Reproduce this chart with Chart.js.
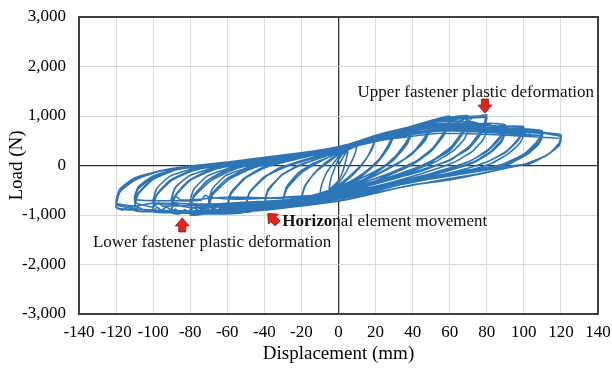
<!DOCTYPE html>
<html>
<head>
<meta charset="utf-8">
<script src="https://cdn.jsdelivr.net/npm/chart.js@4.4.1/dist/chart.umd.min.js"></script>
<style>
  html, body { margin: 0; padding: 0; background: #fff; }
</style>
</head>
<body>
<canvas id="myChart" width="612" height="368"></canvas>
<script>
// Displacement (mm), one row per loading cycle
const cycleDisp = [
  [0, 3, 5, 4, 2, 0, -3, -5, -4, -2, 0],
  [4, 10, 9, 6, 3, 0, -5, -10, -9, -6, -2, 0],
  [8, 14, 20, 18, 14, 8, 0, -10, -20, -18, -13, -7, 0],
  [10, 20, 18, 13, 5, -5, -20, -18, -12, -5, 0],
  [15, 30, 27, 22, 15, 5, -10, -30, -28, -22, -14, -5, 0],
  [15, 22, 30, 27, 21, 12, 0, -15, -30, -28, -21, -12, 0],
  [15, 30, 27, 21, 12, 0, -15, -30, -28, -20, -10, 0],
  [20, 30, 40, 37, 31, 24, 12, 0, -20, -40, -38, -31, -22, -10, 0],
  [20, 40, 37, 30, 22, 5, -15, -30, -40, -38, -30, -20, 0],
  [20, 40, 37, 30, 20, 8, -5, -20, -32, -34, -40, -38, -30, -18, 0],
  [15, 30, 50, 47, 41, 33, 20, 5, -20, -35, -50, -48, -41, -32, -18, 0],
  [20, 35, 50, 47, 40, 31, 15, -10, -30, -50, -48, -40, -30, -15, 0],
  [20, 38, 50, 47, 39, 29, 15, 0, -20, -38, -40, -42, -50, -48, -39, -28, -12, 0],
  [20, 40, 60, 57, 51, 42, 28, 10, -15, -40, -52, -55, -57, -60, -58, -51, -41, -25, 0],
  [20, 40, 55, 60, 57, 50, 40, 25, 0, -30, -45, -47, -50, -60, -58, -50, -40, -25, 0],
  [22, 45, 60, 57, 50, 40, 25, 5, -20, -42, -44, -46, -60, -58, -50, -38, -20, 0],
  [20, 45, 60, 70, 67, 61, 51, 36, 15, -10, -35, -50, -53, -56, -70, -68, -61, -50, -32, -10, 0],
  [20, 45, 65, 70, 67, 60, 50, 30, 0, -30, -62, -64, -70, -68, -60, -48, -30, 0],
  [25, 50, 62, 64, 70, 67, 60, 48, 30, 5, -25, -48, -50, -52, -70, -68, -59, -46, -25, 0],
  [25, 45, 60, 70, 68, 62, 52, 36, 12, -20, -45, -60, -70, -68, -61, -48, -28, 0],
  [20, 50, 65, 76, 80, 77, 71, 61, 45, 20, -10, -40, -60, -63, -66, -80, -78, -71, -60, -42, -15, 0],
  [20, 50, 70, 80, 77, 70, 60, 40, 10, -25, -55, -70, -72, -75, -80, -78, -70, -58, -40, 0],
  [25, 50, 68, 70, 72, 80, 77, 70, 58, 38, 10, -20, -50, -66, -68, -70, -80, -78, -69, -55, -35, 0],
  [25, 50, 65, 80, 78, 72, 62, 45, 20, -10, -40, -60, -80, -78, -71, -58, -38, 0],
  [25, 50, 65, 75, 77, 79, 90, 87, 81, 71, 52, 25, -10, -45, -70, -73, -76, -90, -88, -81, -70, -52, -25, 0],
  [25, 50, 70, 82, 84, 86, 90, 87, 80, 69, 50, 25, -10, -40, -70, -80, -83, -86, -90, -88, -80, -67, -45, -15, 0],
  [25, 50, 70, 80, 90, 88, 82, 73, 58, 35, 5, -30, -60, -75, -78, -90, -88, -81, -68, -48, -20, 0],
  [25, 50, 75, 90, 88, 82, 72, 55, 30, 0, -30, -55, -70, -72, -74, -90, -88, -80, -66, -45, -20, 0],
  [25, 50, 70, 85, 87, 89, 100, 97, 91, 80, 62, 35, 0, -40, -75, -78, -82, -100, -98, -91, -80, -62, -35, 0],
  [25, 50, 72, 80, 82, 84, 100, 97, 90, 78, 58, 30, 0, -35, -70, -85, -88, -90, -100, -98, -90, -78, -58, -30, 0],
  [25, 55, 80, 90, 100, 98, 92, 83, 70, 48, 20, -10, -45, -80, -90, -100, -98, -91, -78, -58, -30, 0],
  [25, 50, 75, 90, 92, 94, 110, 107, 101, 90, 70, 45, 20, 0, -40, -80, -90, -93, -96, -110, -108, -101, -90, -72, -45, -15, 0],
  [25, 50, 80, 96, 98, 100, 110, 107, 100, 88, 68, 40, 10, -30, -70, -95, -98, -100, -110, -108, -100, -88, -68, -40, -10, 0],
  [25, 55, 85, 100, 110, 108, 102, 92, 80, 55, 25, -5, -40, -75, -95, -97, -100, -110, -108, -100, -88, -65, -35, 0],
  [25, 55, 85, 110, 108, 101, 90, 70, 40, 5, -30, -60, -85, -88, -91, -110, -108, -100, -85, -60, -30, 0],
  [25, 50, 75, 95, 97, 99, 112, 120, 119, 114, 104, 97, 80, 60, 40, 20, 0, -40, -80, -105, -108, -111, -120, -118, -111, -100, -90, -75, -60, -25, 0],
  [25, 50, 80, 100, 102, 104, 120, 119, 113, 102, 95, 75, 50, 20, 0, -40, -80, -110, -113, -116, -120, -118, -110, -98, -80, -55, -25, 0],
  [25, 55, 85, 105, 120, 119, 112, 100, 92, 70, 40, 10, -30, -70, -100, -110, -120, -118, -110, -95, -75, -45, -15, 0],
  [30, 60, 85, 110, 120, 119, 113, 103, 95, 80, 60, 30, 0, -40, -80, -110, -120]
];

// Load (N) for the same points
const cycleLoad = [
  [0, 200, 300, 100, -150, -300, -420, -480, -250, -50, 120],
  [300, 450, 250, 0, -200, -350, -520, -620, -380, -120, 80, 180],
  [380, 500, 600, 350, 80, -180, -430, -600, -720, -420, -150, 60, 230],
  [420, 580, 320, 40, -250, -520, -700, -400, -120, 80, 220],
  [480, 700, 420, 130, -120, -350, -580, -800, -460, -170, 40, 170, 260],
  [470, 560, 680, 380, 80, -200, -450, -650, -780, -430, -130, 60, 250],
  [460, 650, 360, 60, -230, -500, -700, -820, -480, -150, 80, 260],
  [540, 660, 800, 500, 200, -30, -260, -450, -680, -860, -520, -210, 0, 150, 290],
  [530, 780, 460, 150, -80, -380, -620, -760, -840, -480, -180, 20, 280],
  [520, 760, 430, 120, -150, -380, -560, -720, -820, -760, -880, -500, -170, 40, 280],
  [500, 680, 900, 600, 300, 60, -200, -420, -680, -800, -920, -560, -260, -50, 120, 320],
  [560, 740, 880, 560, 250, 20, -270, -560, -760, -900, -540, -230, -30, 140, 320],
  [540, 760, 860, 520, 210, -10, -280, -520, -720, -850, -790, -880, -940, -560, -220, -20, 160, 310],
  [580, 800, 1000, 680, 360, 90, -150, -380, -620, -820, -880, -820, -900, -920, -560, -260, -40, 110, 340],
  [600, 790, 920, 960, 640, 300, 40, -200, -480, -730, -840, -780, -880, -900, -540, -240, -30, 120, 350],
  [590, 850, 940, 620, 290, 20, -230, -520, -760, -900, -830, -920, -950, -580, -250, -20, 150, 340],
  [600, 840, 970, 1000, 700, 390, 110, -140, -380, -620, -800, -870, -800, -890, -930, -580, -290, -70, 100, 250, 360],
  [590, 820, 960, 980, 660, 340, 70, -200, -500, -760, -880, -820, -910, -560, -260, -50, 110, 350],
  [640, 880, 960, 880, 960, 640, 300, 40, -230, -540, -800, -920, -850, -960, -960, -600, -280, -50, 140, 350],
  [600, 760, 780, 760, 540, 300, 70, -160, -430, -680, -800, -840, -760, -470, -210, -30, 130, 350],
  [610, 880, 980, 1000, 1020, 720, 410, 130, -110, -360, -620, -830, -900, -840, -920, -980, -620, -310, -80, 90, 250, 370],
  [600, 860, 960, 980, 680, 360, 100, -140, -420, -720, -880, -920, -860, -940, -950, -600, -290, -70, 90, 360],
  [640, 870, 970, 870, 960, 960, 650, 330, 80, -180, -470, -740, -900, -940, -870, -960, -1000, -640, -310, -60, 100, 360],
  [600, 780, 760, 720, 520, 280, 60, -160, -420, -660, -790, -840, -780, -480, -220, -40, 110, 350],
  [640, 880, 900, 860, 760, 850, 820, 580, 330, 90, -140, -380, -650, -850, -920, -860, -940, -930, -600, -310, -100, 50, 220, 380],
  [620, 840, 860, 820, 700, 800, 790, 540, 280, 60, -160, -420, -720, -900, -980, -960, -890, -980, -950, -620, -300, -80, 80, 260, 370],
  [580, 760, 740, 700, 690, 480, 260, 60, -120, -330, -560, -740, -820, -870, -790, -740, -450, -220, -50, 80, 230, 360],
  [600, 800, 780, 740, 520, 280, 60, -130, -360, -560, -640, -680, -640, -600, -700, -700, -440, -200, -40, 80, 230, 350],
  [620, 850, 830, 800, 700, 790, 780, 540, 300, 70, -140, -360, -620, -820, -920, -860, -940, -910, -580, -300, -110, 30, 180, 370],
  [600, 820, 800, 780, 660, 770, 760, 510, 260, 40, -170, -400, -660, -880, -950, -960, -880, -950, -930, -600, -300, -100, 40, 200, 360],
  [560, 740, 700, 660, 650, 460, 250, 50, -100, -280, -480, -680, -780, -850, -780, -760, -460, -220, -60, 60, 200, 350],
  [600, 810, 790, 760, 660, 750, 700, 480, 260, 20, -90, -260, -450, -640, -860, -940, -900, -840, -920, -900, -560, -290, -100, 10, 140, 280, 360],
  [590, 790, 770, 720, 600, 700, 680, 460, 230, 20, -140, -330, -600, -820, -920, -920, -840, -930, -910, -580, -280, -90, 20, 160, 300, 360],
  [540, 700, 660, 620, 600, 430, 230, 30, -60, -210, -420, -620, -750, -800, -820, -750, -840, -740, -470, -240, -80, 40, 180, 340],
  [560, 720, 690, 640, 450, 240, 30, -100, -300, -560, -660, -640, -700, -620, -710, -680, -430, -210, -60, 60, 210, 340],
  [590, 780, 760, 720, 620, 710, 660, 620, 450, 250, 60, 0, -140, -290, -390, -560, -720, -900, -960, -900, -840, -900, -840, -520, -290, -140, -60, 10, 70, 220, 330],
  [580, 770, 750, 700, 580, 690, 600, 430, 220, 40, -20, -170, -330, -540, -680, -880, -940, -880, -820, -900, -850, -540, -300, -130, -20, 60, 200, 320],
  [520, 650, 620, 580, 540, 400, 200, 20, -20, -150, -330, -540, -700, -780, -760, -820, -760, -480, -250, -100, -10, 90, 230, 320],
  [600, 760, 720, 650, 580, 420, 220, 30, 0, -80, -200, -380, -620, -840, -920, -880, -800]
];

const notes = [
  'Upper fastener plastic deformation',
  'Lower fastener plastic deformation',
  'Horizo', 'nal element movement'
];

const points = [];
cycleDisp.forEach((row, i) => {
  row.forEach((d, j) => points.push({x: d, y: cycleLoad[i][j]}));
});

const serif = '"Liberation Serif", "Times New Roman", serif';

// red block arrows + the three text notes
const notesPlugin = {
  id: 'notes',
  afterDraw(chart) {
    const ctx = chart.ctx;
    const x = chart.scales.x, y = chart.scales.y;
    const a = chart.chartArea;

    // frame round the plot
    ctx.save();
    ctx.strokeStyle = '#404040';
    ctx.lineWidth = 2;
    ctx.strokeRect(a.left, a.top, a.right - a.left, a.bottom - a.top);
    ctx.restore();

    ctx.save();
    ctx.fillStyle = '#111';
    ctx.textBaseline = 'middle';
    ctx.font = '17px ' + serif;
    ctx.fillText(notes[0], x.getPixelForValue(10.3), y.getPixelForValue(1470));
    ctx.fillText(notes[1], x.getPixelForValue(-132.5), y.getPixelForValue(-1550));
    const hx = x.getPixelForValue(-30.3), hy = y.getPixelForValue(-1140);
    ctx.font = 'bold 17px ' + serif;
    ctx.fillText(notes[2], hx, hy);
    const w = ctx.measureText(notes[2]).width;
    ctx.font = '17px ' + serif;
    ctx.fillText(notes[3], hx + w, hy);
    ctx.restore();

    function arrow(cx, cy, angle) {
      // arrow pointing along +y in local coords, tip at (0, 7)
      ctx.save();
      ctx.translate(cx, cy);
      ctx.rotate(angle);
      ctx.beginPath();
      ctx.moveTo(-3.5, -7);
      ctx.lineTo(3.5, -7);
      ctx.lineTo(3.5, -1);
      ctx.lineTo(7, -1);
      ctx.lineTo(0, 7);
      ctx.lineTo(-7, -1);
      ctx.lineTo(-3.5, -1);
      ctx.closePath();
      ctx.fillStyle = '#e8201c';
      ctx.fill();
      ctx.strokeStyle = '#8a1010';
      ctx.lineWidth = 0.8;
      ctx.stroke();
      ctx.restore();
    }
    arrow(x.getPixelForValue(79), y.getPixelForValue(1200), 0);
    arrow(x.getPixelForValue(-84.3), y.getPixelForValue(-1200), Math.PI);
    arrow(x.getPixelForValue(-35.5), y.getPixelForValue(-1070), Math.PI * 0.75);
  }
};

const config = {
  type: 'scatter',
  data: {
    datasets: [{
      data: points,
      showLine: true,
      borderColor: '#2E75B6',
      backgroundColor: '#2E75B6',
      borderWidth: 1.6,
      pointRadius: 0,
      tension: 0.15
    }]
  },
  options: {
    responsive: false,
    animation: false,
    layout: { padding: { left: 0, right: 14, top: 17, bottom: 0 } },
    plugins: {
      legend: { display: false },
      tooltip: { enabled: false }
    },
    scales: {
      x: {
        type: 'linear',
        min: -140,
        max: 140,
        ticks: {
          stepSize: 20, padding: 8, color: '#000',
          maxRotation: 0, minRotation: 0, autoSkip: false,
          font: { family: serif, size: 17 }
        },
        grid: {
          drawTicks: false,
          color: c => c.tick.value === 0 ? '#333333' : '#d9d9d9',
          lineWidth: c => c.tick.value === 0 ? 1.3 : 1
        },
        border: { display: false },
        title: {
          display: true,
          text: 'Displacement (mm)',
          color: '#000',
          font: { family: serif, size: 19 },
          padding: { top: 0, bottom: 3 }
        },
        afterFit: s => { s.height = 54; s.paddingLeft = 0; s.paddingRight = 0; }
      },
      y: {
        type: 'linear',
        min: -3000,
        max: 3000,
        ticks: { stepSize: 1000, padding: 13, color: '#000', font: { family: serif, size: 17 } },
        grid: {
          drawTicks: false,
          color: c => c.tick.value === 0 ? '#333333' : '#d9d9d9',
          lineWidth: c => c.tick.value === 0 ? 1.3 : 1
        },
        border: { display: false },
        title: {
          display: true,
          text: 'Load (N)',
          color: '#000',
          font: { family: serif, size: 19 },
          padding: { top: 6, bottom: 0 }
        },
        afterFit: s => { s.width = 79; s.paddingTop = 0; s.paddingBottom = 0; }
      }
    }
  },
  plugins: [notesPlugin]
};

var ctx = document.getElementById('myChart').getContext('2d');
var myChart = new Chart(ctx, config);
</script>
</body>
</html>
